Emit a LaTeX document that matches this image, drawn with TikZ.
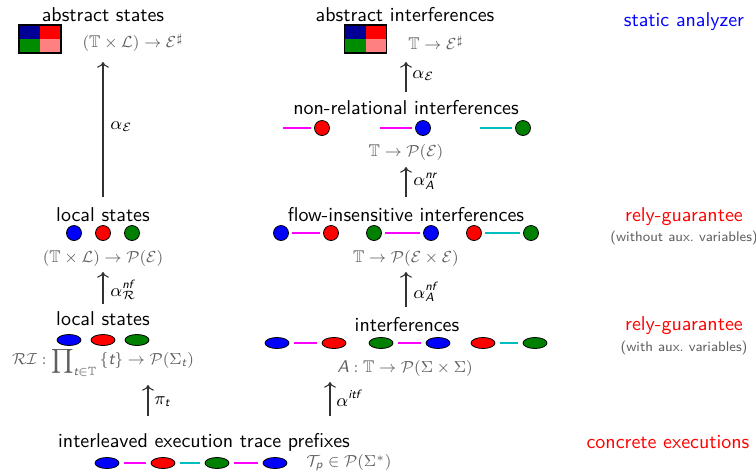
\documentclass[tikz,border=0pt]{standalone}
\usepackage{amsmath,amssymb}
\usetikzlibrary{shapes.geometric,arrows.meta}
\definecolor{navyq}{RGB}{0,0,150}
\definecolor{greenq}{RGB}{0,140,0}
\definecolor{pinkq}{RGB}{255,128,128}
\definecolor{dgreen}{RGB}{0,128,0}
\definecolor{mag}{RGB}{255,0,255}
\definecolor{cyn}{RGB}{0,190,190}
\definecolor{graytxt}{RGB}{95,95,95}
\definecolor{arrcol}{RGB}{50,50,50}
\newcommand{\sfit}[1]{\text{\sffamily\itshape #1}}
\begin{document}
\begin{tikzpicture}[x=0.5pt,y=-0.5pt,
 title/.style={font=\sffamily\fontsize{10}{12}\selectfont, inner sep=0pt},
 mlabel/.style={font=\fontsize{8.5}{10}\selectfont, text=graytxt, inner sep=0pt},
 alabel/.style={font=\fontsize{9}{10}\selectfont, inner sep=0pt, anchor=west},
 dot/.style={circle, draw=black, line width=0.4pt, minimum size=7.5pt, inner sep=0pt},
 ell/.style={ellipse, draw=black, line width=0.4pt, minimum width=12pt, minimum height=5.5pt, inner sep=0pt},
 lnk/.style={line width=0.6pt, shorten <=1.5pt, shorten >=1.5pt},
 elnk/.style={line width=0.6pt, shorten <=2.5pt, shorten >=2.5pt},
 arr/.style={->, line width=0.55pt, draw=arrcol},
 side/.style={font=\sffamily\fontsize{10}{12}\selectfont, inner sep=0pt},
 sidesub/.style={font=\sffamily\fontsize{7}{8}\selectfont, text=graytxt, inner sep=0pt},
 sq/.style={draw=black, line width=0.6pt, minimum width=21pt, minimum height=14pt, inner sep=0pt,
   path picture={
     \fill[navyq] (path picture bounding box.north west) rectangle (path picture bounding box.center);
     \fill[red] (path picture bounding box.north east) rectangle (path picture bounding box.center);
     \fill[greenq] (path picture bounding box.south west) rectangle (path picture bounding box.center);
     \fill[pinkq] (path picture bounding box.south east) rectangle (path picture bounding box.center);
   }}]
\useasboundingbox (0,0) rectangle (756,473);

% ---- abstract level
\node[title] (absS) at (103,15) {abstract states};
\node[sq] (sqS) at (40,39) {};
\node[mlabel] (absSm) at (133,43) {$(\mathbb{T}\times\mathcal{L})\rightarrow\mathcal{E}^{\sharp}$};

\node[title] (absI) at (405,15) {abstract interferences};
\node[sq] (sqI) at (365.5,39) {};
\node[mlabel] (absIm) at (436,43) {$\mathbb{T}\rightarrow\mathcal{E}^{\sharp}$};

% ---- non-relational interferences
\node[title] (nr) at (406,108) {non-relational interferences};
\coordinate (nr0) at (283,128);
\node[dot,fill=red] (nr1) at (322,128) {};
\coordinate (nr2) at (380,128);
\node[dot,fill=blue] (nr3) at (423,128) {};
\coordinate (nr4) at (480,128);
\node[dot,fill=dgreen] (nr5) at (523,128) {};
\draw[lnk,mag,shorten <=0pt] (nr0) -- (nr1);
\draw[lnk,mag,shorten <=0pt] (nr2) -- (nr3);
\draw[lnk,cyn,shorten <=0pt] (nr4) -- (nr5);
\node[mlabel] (nrm) at (406,152) {$\mathbb{T}\rightarrow\mathcal{P}(\mathcal{E})$};

% ---- flow-insensitive interferences
\node[title] (fi) at (406,215) {flow-insensitive interferences};
\node[dot,fill=blue] (fi1) at (281,233) {};
\node[dot,fill=red] (fi2) at (331,233) {};
\node[dot,fill=dgreen] (fi3) at (374,233) {};
\node[dot,fill=blue] (fi4) at (431,233) {};
\node[dot,fill=red] (fi5) at (474,233) {};
\node[dot,fill=dgreen] (fi6) at (531,233) {};
\draw[lnk,mag] (fi1) -- (fi2);
\draw[lnk,mag] (fi3) -- (fi4);
\draw[lnk,cyn] (fi5) -- (fi6);
\node[mlabel] (fim) at (406,258) {$\mathbb{T}\rightarrow\mathcal{P}(\mathcal{E}\times\mathcal{E})$};

% ---- local states (upper)
\node[title] (ls1) at (103,215) {local states};
\node[dot,fill=blue] (ls1a) at (74,233) {};
\node[dot,fill=red] (ls1b) at (103,233) {};
\node[dot,fill=dgreen] (ls1c) at (132,233) {};
\node[mlabel] (ls1m) at (103,258) {$(\mathbb{T}\times\mathcal{L})\rightarrow\mathcal{P}(\mathcal{E})$};

% ---- local states (lower)
\node[title] (ls2) at (103,319) {local states};
\node[ell,fill=blue] (ls2a) at (69,340) {};
\node[ell,fill=red] (ls2b) at (103,340) {};
\node[ell,fill=dgreen] (ls2c) at (137,340) {};
\node[mlabel] (ls2m) at (103,362) {$\mathcal{RI}:\displaystyle\prod\nolimits_{\sfit{t}\in\mathbb{T}}\,\{\sfit{t}\}\rightarrow\mathcal{P}(\Sigma_{\sfit{t}})$};

% ---- interferences
\node[title] (itf) at (407,325) {interferences};
\node[ell,fill=blue] (it1) at (277,343) {};
\node[ell,fill=red] (it2) at (334,343) {};
\node[ell,fill=dgreen] (it3) at (381,343) {};
\node[ell,fill=blue] (it4) at (438,343) {};
\node[ell,fill=red] (it5) at (483,343) {};
\node[ell,fill=dgreen] (it6) at (535,343) {};
\draw[elnk,mag] (it1) -- (it2);
\draw[elnk,mag] (it3) -- (it4);
\draw[elnk,cyn] (it5) -- (it6);
\node[mlabel] (itfm) at (405,368) {$\sfit{A}:\mathbb{T}\rightarrow\mathcal{P}(\Sigma\times\Sigma)$};

% ---- interleaved traces
\node[title] (il) at (204,442) {interleaved execution trace prefixes};
\node[ell,fill=blue] (il1) at (107,463) {};
\node[ell,fill=red] (il2) at (163,463) {};
\node[ell,fill=dgreen] (il3) at (217,463) {};
\node[ell,fill=blue] (il4) at (275,463) {};
\draw[elnk,mag] (il1) -- (il2);
\draw[elnk,cyn] (il2) -- (il3);
\draw[elnk,mag] (il3) -- (il4);
\node[mlabel] (ilm) at (349,463) {$\mathcal{T}_{\sfit{p}}\in\mathcal{P}(\Sigma^{*})$};

% ---- side labels
\node[side,text=blue] (sa) at (684,22) {static analyzer};
\node[side,text=red] (rg1) at (684,217) {rely-guarantee};
\node[sidesub] (rg1s) at (684,238) {(without aux.\ variables)};
\node[side,text=red] (rg2) at (684,326) {rely-guarantee};
\node[sidesub] (rg2s) at (684,348) {(with aux.\ variables)};
\node[side,text=red] (ce) at (668,442) {concrete executions};

% ---- arrows
\coordinate (xpi) at (148,0);
\coordinate (xitf) at (330,0);
\draw[arr] ([yshift=9pt]ls1.center) -- ([yshift=-11.5pt]ls1.center |- sqS.center);
\node[alabel] (l1) at (110,127) {$\alpha_{\mathcal{E}}$};
\draw[arr] ([yshift=8pt]nr.center) -- ([yshift=-11.5pt]nr.center |- sqI.center);
\node[alabel] (l2) at (412,76) {$\alpha_{\mathcal{E}}$};
\draw[arr] ([yshift=9pt]fi.center) -- ([yshift=-7.5pt]fi.center |- nrm.center);
\node[alabel] (l3) at (413,181) {$\alpha^{\sfit{nr}}_{\sfit{A}}$};
\draw[arr] ([yshift=7.5pt]ls2.center) -- ([yshift=-7pt]ls2.center |- ls1m.center);
\node[alabel] (l4) at (110,290) {$\alpha^{\sfit{nf}}_{\mathcal{R}}$};
\draw[arr] ([yshift=9pt]itf.center -| nr.center) -- ([yshift=-7pt]nr.center |- fim.center);
\node[alabel] (l5) at (413,292) {$\alpha^{\sfit{nf}}_{\sfit{A}}$};
\draw[arr] ([yshift=13pt]xpi |- il.center) -- ([yshift=-11.5pt]xpi |- ls2m.center);
\node[alabel] (l6) at (154,402) {$\pi_{\sfit{t}}$};
\draw[arr] ([yshift=13pt]xitf |- il.center) -- ([yshift=-7pt]xitf |- itfm.center);
\node[alabel] (l7) at (336,398) {$\alpha^{\sfit{itf}}$};
\end{tikzpicture}
\end{document}
